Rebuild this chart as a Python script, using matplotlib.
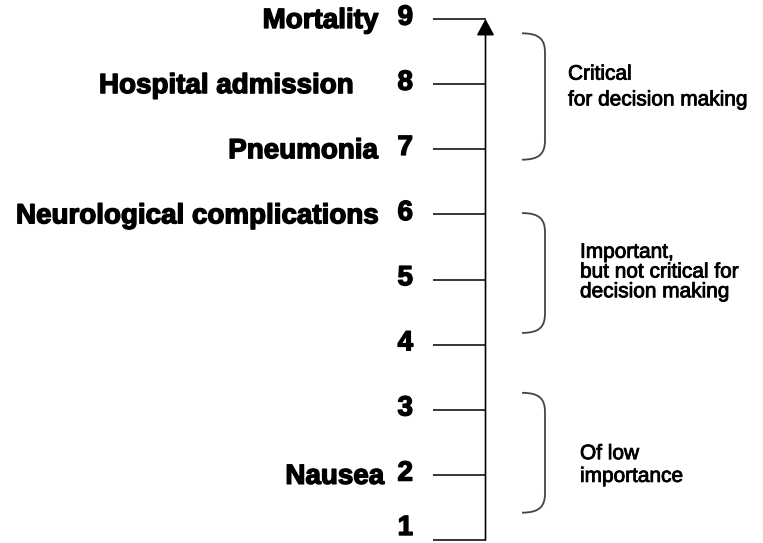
import numpy as np
import matplotlib
matplotlib.use('Agg')
import matplotlib.pyplot as plt
import matplotlib.patheffects as pe
from matplotlib.path import Path
from matplotlib.patches import PathPatch

plt.rcParams['font.family'] = ['Liberation Sans', 'DejaVu Sans']

# outcome importance scale
levels = np.arange(1, 10)
outcome_level = [9, 8, 7, 6, 2]
outcome_names = ['Mortality', 'Hospital admission', 'Pneumonia',
                 'Neurological complications', 'Nausea']

# groups of the scale (bracket spans in scale units)
group_top = [8.78, 6.02, 3.26]
group_bottom = [6.84, 4.18, 1.42]
group_text = ['Critical\nfor decision making',
              'Important,\nbut not critical for\ndecision making',
              'Of low\nimportance']

# layout, pixel units across, scale units up
W, H = 763, 543
px_per_level = 65.125
y_bottom_px = 540
def lvl(py):
    return 1 + (y_bottom_px - py) / px_per_level

fig = plt.figure(figsize=(W / 100, H / 100), dpi=100)
ax = fig.add_axes([0, 0, 1, 1])
ax.set_xlim(0, W)
ax.set_ylim(lvl(H), lvl(0))
ax.axis('off')

heavy = [pe.withStroke(linewidth=1.0, foreground='black')]
medium = [pe.withStroke(linewidth=0.6, foreground='black')]

axis_x = 485.5
# tick lines and axis arrow
ax.hlines(levels, 433, axis_x, color='black', lw=1.1)
ax.annotate('', xy=(axis_x, levels[-1]), xytext=(axis_x, levels[0]),
            arrowprops=dict(arrowstyle='-|>,head_length=0.5,head_width=0.27',
                            mutation_scale=20, lw=1.2, color='black',
                            shrinkA=0, shrinkB=0))

# level numbers
for lv in levels:
    y = lv + 0.02
    if lv == 1:
        y = lvl(528)
    ax.text(413, y, str(lv), ha='right', va='center', fontsize=20,
            fontweight='bold', path_effects=heavy)

# outcome labels
label_right = {'Hospital admission': 353, 'Nausea': 384}
for lv, name in zip(outcome_level, outcome_names):
    ax.text(label_right.get(name, 378), lv - 0.03, name, ha='right',
            va='center', fontsize=20, fontweight='bold', path_effects=heavy)

# brackets
bx0, bx1 = 522, 545
for top, bot in zip(group_top, group_bottom):
    verts = [(bx0, top), (540, top), (bx1, top - 0.1), (bx1, top - 0.3),
             (bx1, bot + 0.3),
             (bx1, bot + 0.1), (540, bot), (bx0, bot)]
    codes = [Path.MOVETO, Path.CURVE4, Path.CURVE4, Path.CURVE4,
             Path.LINETO, Path.CURVE4, Path.CURVE4, Path.CURVE4]
    ax.add_patch(PathPatch(Path(verts, codes), fill=False, ec='#444444', lw=1.3))

# group descriptions
text_pos = [(568, lvl(87), 1.45), (580, lvl(272), 1.05), (580, lvl(465), 1.25)]
for (tx, ty, ls), txt in zip(text_pos, group_text):
    ax.text(tx, ty, txt, ha='left', va='center', fontsize=15,
            linespacing=ls, path_effects=medium)

fig.savefig('out.png', dpi=100)
